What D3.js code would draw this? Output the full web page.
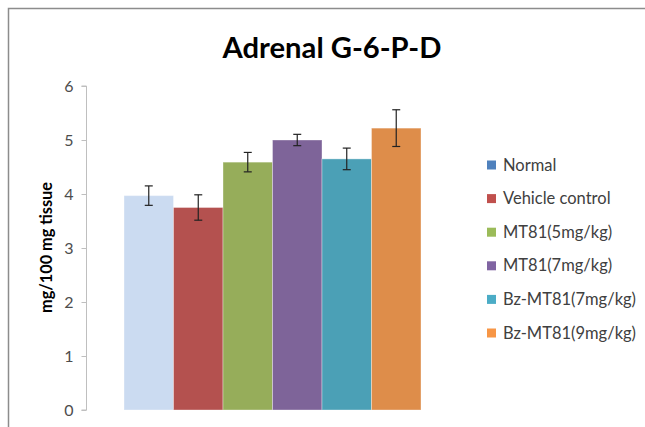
<!DOCTYPE html>
<html><head><meta charset="utf-8">
<script src="https://cdn.jsdelivr.net/npm/d3@7"></script>
<style>body{margin:0;background:#fff}svg{display:block}</style>
</head><body>
<svg id="c" width="645" height="427"></svg>
<script>
const title = "Adrenal G-6-P-D";
const yTitle = "mg/100 mg tissue";
const category = [""];
const series = ["Normal", "Vehicle control", "MT81(5mg/kg)", "MT81(7mg/kg)", "Bz-MT81(7mg/kg)", "Bz-MT81(9mg/kg)"];
const values = [3.97, 3.75, 4.59, 5.0, 4.65, 5.22];
const errors = [0.18, 0.235, 0.18, 0.105, 0.2, 0.34];
const yTicks = [0, 1, 2, 3, 4, 5, 6];
const barColors = ["#CBDBF1", "#B4514F", "#96AD5A", "#7E6499", "#4BA0B6", "#DE8D4A"];
const legendColors = ["#4F81BD", "#C0504D", "#9BBB59", "#8064A2", "#4BACC6", "#F79646"];

const font = "Lato, 'Open Sans', sans-serif";
const svg = d3.select("#c");

function fit(sel, target) {
  const node = sel.node();
  const fs = parseFloat(sel.style("font-size"));
  const w = node.getComputedTextLength();
  if (w > 0) sel.style("font-size", (fs * target / w).toFixed(2) + "px");
  return sel;
}

// frame
svg.append("path").attr("d", "M8.5,427 V8.5 H645").attr("fill", "none")
  .attr("stroke", "#8C8C8C").attr("stroke-width", 1.5);

const plot = {left: 86, right: 459, top: 86, bottom: 410};
const y = d3.scaleLinear().domain([0, 6]).range([plot.bottom, plot.top]);
const x0 = d3.scaleBand().domain(category).range([plot.left, plot.right]).paddingInner(0).paddingOuter(0.128);
const xs = d3.scaleBand().domain(series).range([0, x0.bandwidth()]);

// y axis
const yAxis = d3.axisLeft(y).tickValues(yTicks).tickSize(5).tickPadding(8).tickFormat(d3.format("d"));
const ga = svg.append("g").attr("transform", `translate(${plot.left + 0.5},0)`).call(yAxis);
ga.select(".domain").attr("stroke", "#BFBFBF").attr("d", `M-5,${y(6)}H0V${y(0)}H-5`);
ga.selectAll(".tick line").attr("stroke", "#BFBFBF");
ga.selectAll(".tick text").attr("fill", "#4D4D4D").style("font-family", font).style("font-size", "16px");

// bars
const g = svg.append("g").attr("transform", `translate(${x0(category[0])},0)`);
g.selectAll("rect").data(series).join("rect")
  .attr("x", d => xs(d)).attr("width", xs.bandwidth())
  .attr("y", (d, i) => y(values[i])).attr("height", (d, i) => y(0) - y(values[i]))
  .attr("fill", (d, i) => barColors[i])
  .attr("stroke", "rgba(255,255,255,0.35)").attr("stroke-width", 1);

// error bars
const eb = g.selectAll("g.eb").data(series).join("g").attr("class", "eb")
  .attr("transform", d => `translate(${xs(d) + xs.bandwidth() / 2},0)`);
eb.append("line").attr("x1", 0).attr("x2", 0)
  .attr("y1", (d, i) => y(values[i] + errors[i])).attr("y2", (d, i) => y(values[i] - errors[i]))
  .attr("stroke", "#222").attr("stroke-width", 1.2);
eb.append("line").attr("x1", -4).attr("x2", 4)
  .attr("y1", (d, i) => y(values[i] + errors[i])).attr("y2", (d, i) => y(values[i] + errors[i]))
  .attr("stroke", "#222").attr("stroke-width", 1.2);
eb.append("line").attr("x1", -4).attr("x2", 4)
  .attr("y1", (d, i) => y(values[i] - errors[i])).attr("y2", (d, i) => y(values[i] - errors[i]))
  .attr("stroke", "#222").attr("stroke-width", 1.2);

// title
const t = svg.append("text").attr("x", 332).attr("y", 58).attr("text-anchor", "middle")
  .style("font-family", font).style("font-weight", "bold").style("font-size", "30px")
  .attr("fill", "#000").text(title);
fit(t, 219);

// y title
const yt = svg.append("text").attr("transform", "translate(52,247.5) rotate(-90)").attr("text-anchor", "middle")
  .style("font-family", font).style("font-weight", "bold").style("font-size", "15px")
  .attr("fill", "#000").text(yTitle);
fit(yt, 131);

// legend
const lg = svg.append("g").selectAll("g").data(series).join("g")
  .attr("transform", (d, i) => `translate(487,${165 + i * 33.6})`);
lg.append("rect").attr("x", 0).attr("y", -4.5).attr("width", 9).attr("height", 9)
  .attr("fill", (d, i) => legendColors[i]);
const lt = lg.append("text").attr("x", 16).attr("y", 5.5)
  .style("font-family", font).style("font-size", "15.5px").attr("fill", "#404040").text(d => d);
const longest = lt.filter((d, i) => i === series.length - 1);
fit(longest, 133);
lt.style("font-size", longest.style("font-size"));
</script>
</body></html>
